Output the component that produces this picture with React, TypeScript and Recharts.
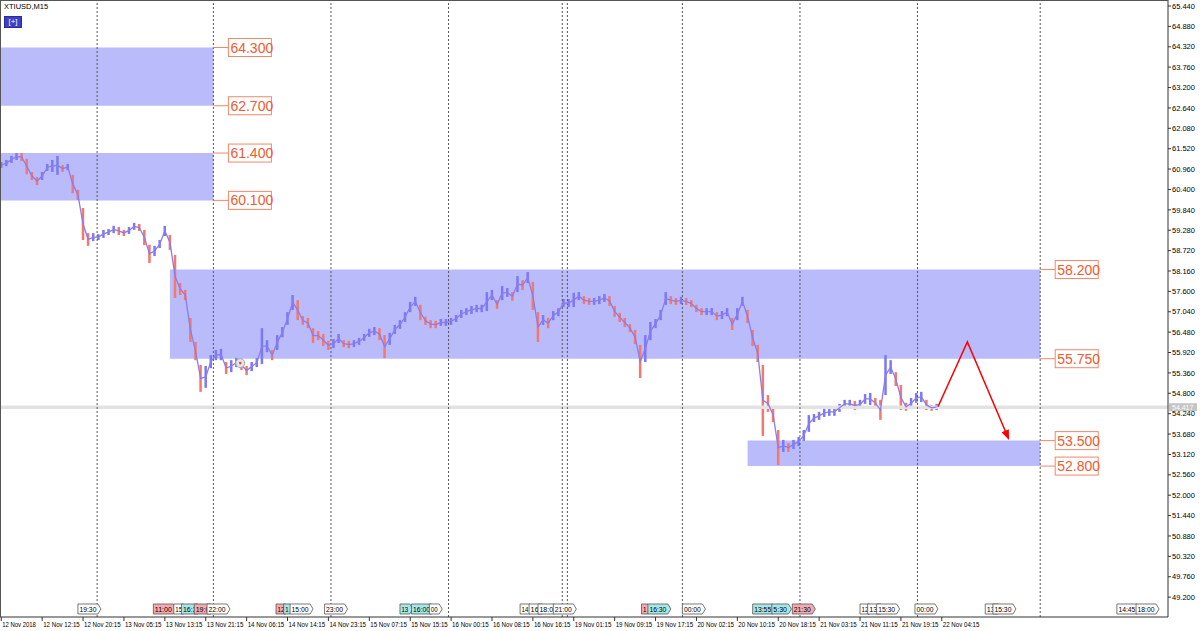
import React from "react";
import {
  ComposedChart,
  Bar,
  Line,
  XAxis,
  YAxis,
  ReferenceArea,
  ReferenceLine,
  ReferenceDot,
} from "recharts";

// sampled M15 ranges, one entry every 4 bars
const BAR_STEP = 4;
const highs = [
  61.15, 61.21, 61.32, 61.4, 61.4, 61.24, 60.88, 60.74, 60.88, 61.1,
  61.21, 61.32, 61.07, 61.1, 60.8, 60.39, 59.89, 59.2, 59.2, 59.17,
  59.29, 59.31, 59.4, 59.37, 59.29, 59.37, 59.48, 59.45, 59.29, 58.88,
  58.85, 59.01, 59.4, 59.15, 58.6, 57.83, 57.64, 56.87, 56.21, 55.58,
  55.55, 55.85, 55.99, 56.02, 55.66, 55.71, 55.77, 55.71, 55.55, 55.66,
  55.77, 56.59, 56.26, 55.99, 56.4, 56.62, 57.03, 57.5, 57.36, 56.92,
  56.87, 56.59, 56.51, 56.43, 56.24, 56.29, 56.43, 56.26, 56.24, 56.26,
  56.32, 56.43, 56.57, 56.62, 56.59, 56.4, 56.46, 56.68, 56.81, 57.03,
  57.31, 57.45, 57.23, 56.9, 56.81, 56.79, 56.84, 56.84, 56.87, 56.95,
  57.09, 57.14, 57.2, 57.23, 57.23, 57.58, 57.64, 57.36, 57.75, 57.69,
  57.58, 58.02, 57.91, 58.13, 57.86, 57.03, 56.95, 56.87, 57.06, 57.14,
  57.39, 57.39, 57.56, 57.58, 57.47, 57.42, 57.42, 57.47, 57.53, 57.47,
  57.2, 57.01, 56.87, 56.7, 56.54, 56.13, 56.4, 56.76, 56.84, 57.09,
  57.58, 57.47, 57.42, 57.45, 57.42, 57.36, 57.23, 57.14, 57.14, 57.14,
  57.03, 57.06, 57.14, 56.87, 57.14, 57.45, 57.09, 56.54, 56.13, 55.58,
  54.75, 54.4, 53.79, 53.52, 53.43, 53.52, 53.6, 53.79, 54.2, 54.23,
  54.29, 54.37, 54.4, 54.4, 54.51, 54.62, 54.62, 54.59, 54.62, 54.78,
  54.81, 54.67, 54.62, 55.85, 55.71, 55.38, 55.03, 54.54, 54.67, 54.81,
  54.84, 54.62, 54.48, 54.51,
];
const lows = [
  60.99, 61.04, 61.13, 61.21, 61.18, 60.82, 60.66, 60.52, 60.66, 60.91,
  60.88, 60.8, 60.88, 60.93, 60.3, 60.11, 59.01, 58.85, 58.98, 59.01,
  59.07, 59.15, 59.2, 59.15, 59.12, 59.18, 59.29, 59.26, 58.87, 58.38,
  58.57, 58.79, 59.12, 58.74, 57.42, 57.5, 57.36, 56.21, 55.71, 54.84,
  54.95, 55.49, 55.71, 55.71, 55.33, 55.38, 55.52, 55.44, 55.3, 55.41,
  55.52, 55.6, 55.93, 55.71, 55.99, 56.34, 56.68, 57.09, 56.81, 56.68,
  56.59, 56.18, 56.26, 56.1, 55.99, 56.04, 56.18, 56.07, 56.04, 56.07,
  56.13, 56.24, 56.35, 56.4, 56.26, 55.77, 56.13, 56.43, 56.57, 56.76,
  57.03, 57.2, 56.81, 56.68, 56.59, 56.59, 56.65, 56.65, 56.68, 56.76,
  56.87, 56.95, 56.98, 57.03, 57.03, 57.06, 57.36, 57.12, 57.36, 57.45,
  57.34, 57.58, 57.64, 57.83, 57.09, 56.21, 56.68, 56.59, 56.81, 56.92,
  57.17, 57.17, 57.17, 57.36, 57.25, 57.23, 57.23, 57.25, 57.31, 57.2,
  56.9, 56.76, 56.62, 56.48, 56.15, 55.22, 55.66, 56.26, 56.59, 56.81,
  57.23, 57.25, 57.23, 57.25, 57.23, 57.17, 57.03, 56.95, 56.95, 56.95,
  56.81, 56.84, 56.92, 56.54, 56.81, 57.2, 56.73, 56.1, 55.66, 53.63,
  54.29, 54.01, 52.83, 53.19, 53.19, 53.27, 53.35, 53.49, 53.74, 54.01,
  54.07, 54.15, 54.18, 54.18, 54.29, 54.4, 54.4, 54.34, 54.37, 54.51,
  54.48, 54.4, 54.07, 54.75, 55.33, 55.0, 54.34, 54.32, 54.37, 54.54,
  54.56, 54.34, 54.32, 54.34,
];

const timeLabels = [
  "12 Nov 2018", "12 Nov 12:15", "12 Nov 20:15", "13 Nov 05:15", "13 Nov 13:15",
  "13 Nov 21:15", "14 Nov 06:15", "14 Nov 14:15", "14 Nov 23:15", "15 Nov 07:15",
  "15 Nov 15:15", "16 Nov 00:15", "16 Nov 08:15", "16 Nov 16:15", "19 Nov 01:15",
  "19 Nov 09:15", "19 Nov 17:15", "20 Nov 02:15", "20 Nov 10:15", "20 Nov 18:15",
  "21 Nov 03:15", "21 Nov 11:15", "21 Nov 19:15", "22 Nov 04:15",
];
const LABEL_EVERY = 32;

const priceTicks = [
  65.44, 64.88, 64.32, 63.76, 63.2, 62.64, 62.08, 61.52, 60.96, 60.4,
  59.84, 59.28, 58.72, 58.16, 57.6, 57.04, 56.48, 55.92, 55.36, 54.8,
  54.24, 53.68, 53.12, 52.56, 52.0, 51.44, 50.88, 50.32, 49.76, 49.2,
];

// supply / demand zones (bar index, price)
const zoneStart = [-1, -1, 132, 584];
const zoneEnd = [166, 166, 813, 813];
const zoneTop = [64.3, 61.4, 58.2, 53.5];
const zoneBottom = [62.7, 60.1, 55.75, 52.8];

const daySeparators = [75, 166, 258, 350, 439, 443, 533, 625, 717, 813];
const currentPrice = 54.417;

const projectionBars = [733, 756, 788];
const projectionPrices = [54.43, 56.21, 53.57];

// closed trade marker
const tradeBar = 187;
const tradePrice = 55.63;

// calendar events along the bottom
const eventBars = [60, 119, 135, 141, 151, 161, 215, 221, 226, 253, 312, 321, 335, 406, 413, 420, 432, 501, 506, 533, 588, 603, 619, 672, 678, 685, 715, 770, 776, 873, 888];
const eventTimes = ["19:30", "11:00", "15", "16:3", "19:0", "22:00", "12", "1", "15:00", "23:00", "13", "16:00", "00", "14", "16:", "18:0", "21:00", "1", "16:30", "00:00", "13:55", "5:30", "21:30", "12", "13:", "15:30", "00:00", "13:", "15:30", "14:45", "18:00"];
const eventKinds = ["w", "p", "w", "c", "p", "w", "p", "c", "w", "w", "c", "c", "w", "w", "w", "w", "w", "p", "c", "w", "c", "c", "p", "w", "w", "w", "w", "w", "w", "w", "w"];
const EVENT_ROW = 48.874;

const BLUE = "#7A7AF6";
const RED = "#F4786C";
const ZONE = "#B9BBFA";
const TAG = "#EF5A34";
const FONT = "Liberation Sans";

const candles = highs.map((h, i) => {
  const mid = (h + lows[i]) / 2;
  const prev = i > 0 ? (highs[i - 1] + lows[i - 1]) / 2 : mid;
  return { bar: i * BAR_STEP, range: [lows[i], h], mid, up: mid >= prev };
});

const projection = projectionBars.map((b, i) => ({ bar: b, price: projectionPrices[i] }));

const CandleShape = (p: any) => {
  const cx = p.x + p.width / 2;
  const h = Math.max(Math.abs(p.height), 1.5);
  const y = p.height < 0 ? p.y + p.height : p.y;
  const up = p.payload?.up ?? p.up;
  return <rect x={cx - 1.25} y={y} width={2.5} height={h} fill={up ? BLUE : RED} />;
};

const LevelTag = ({ cx, cy, text }: { cx: number; cy: number; text: string }) => (
  <g>
    <line x1={cx} y1={cy} x2={cx + 15} y2={cy} stroke="#F0886C" />
    <rect x={cx + 15} y={cy - 9} width={43} height={18} fill="#fff" stroke="#F0886C" />
    <text x={cx + 17} y={cy + 5} fontSize={14} fill={TAG} fontFamily={FONT}>
      {text}
    </text>
  </g>
);

const EventFlag = ({ cx, cy, text, kind }: { cx: number; cy: number; text: string; kind: string }) => {
  const w = text.length * 3.4 + 6;
  const fill = kind === "p" ? "#F5AAB0" : kind === "c" ? "#A6E8E8" : "#fff";
  return (
    <g>
      <path
        d={`M${cx},${cy - 5}H${cx + w - 3}L${cx + w},${cy}L${cx + w - 3},${cy + 5}H${cx}Z`}
        fill={fill}
        stroke="#555"
        strokeWidth={0.8}
      />
      <text x={cx + 1.5} y={cy + 2.6} fontSize={7} fill="#000" fontFamily={FONT} textLength={text.length * 3.4} lengthAdjust="spacingAndGlyphs">
        {text}
      </text>
    </g>
  );
};

const TradeMark = ({ cx, cy }: { cx: number; cy: number }) => (
  <g>
    <circle cx={cx} cy={cy} r={4.5} fill="#E4E4E4" stroke="#A8A8A8" />
    <circle cx={cx} cy={cy} r={1.3} fill="#D05050" />
  </g>
);

const TimeTick = ({ x, y, payload }: any) => {
  const idx = Math.round(payload.value / LABEL_EVERY);
  const label = timeLabels[idx] ?? "";
  return (
    <g>
      <line x1={x} y1={y - 2} x2={x} y2={y + 2} stroke="#333" />
      <text
        x={x + 1}
        y={y + 8}
        fontSize={7.5}
        fill="#000"
        fontFamily={FONT}
        textLength={label.length * 3.05}
        lengthAdjust="spacingAndGlyphs"
      >
        {label}
      </text>
    </g>
  );
};

const PriceBadge = ({ viewBox }: any) => {
  const x = viewBox.x + viewBox.width + 1;
  const y = viewBox.y;
  return (
    <g>
      <rect x={x} y={y - 4} width={28} height={8} fill="#C4C4C4" />
      <text x={x + 3} y={y + 2.5} fontSize={7} fill="#fff" fontFamily={FONT}>
        {currentPrice.toFixed(3)}
      </text>
    </g>
  );
};

export default function App() {
  const tickBars = timeLabels.map((_, i) => i * LABEL_EVERY);
  return (
    <div style={{ position: "relative", width: 1200, height: 631, background: "#fff" }}>
      <style>{"body{margin:0}"}</style>
      <svg width={0} height={0} style={{ position: "absolute" }}>
        <defs>
          <marker id="arrowhead" markerWidth="10" markerHeight="8" refX="8" refY="4" orient="auto" markerUnits="userSpaceOnUse">
            <path d="M0,0 L10,4 L0,8 Z" fill="#FF0000" />
          </marker>
        </defs>
      </svg>
      <ComposedChart
        width={1200}
        height={631}
        data={candles}
        margin={{ top: 0, right: 0, left: 0, bottom: 0 }}
      >
        <XAxis
          type="number"
          dataKey="bar"
          domain={[-1, 913]}
          ticks={tickBars}
          interval={0}
          allowDataOverflow
          height={14}
          tickLine={false}
          tickSize={0}
          tick={<TimeTick />}
          axisLine={{ stroke: "#333" }}
        />
        <YAxis
          orientation="right"
          width={32}
          domain={[48.654, 65.605]}
          ticks={priceTicks}
          interval={0}
          allowDataOverflow
          tickSize={3}
          tickMargin={1}
          tickLine={{ stroke: "#333" }}
          axisLine={{ stroke: "#333" }}
          tickFormatter={(v: number) => v.toFixed(3)}
          tick={{ fontSize: 7.5, fill: "#000", fontFamily: FONT }}
        />

        {zoneTop.map((top, i) => (
          <ReferenceArea
            key={`zone-${i}`}
            x1={zoneStart[i]}
            x2={zoneEnd[i]}
            y1={zoneBottom[i]}
            y2={top}
            fill={ZONE}
            fillOpacity={1}
            stroke="none"
            ifOverflow="hidden"
          />
        ))}

        <ReferenceLine y={currentPrice} stroke="#E2E2E2" strokeWidth={3.5} label={<PriceBadge />} />

        {daySeparators.map((b) => (
          <ReferenceLine key={`sep-${b}`} x={b} stroke="#555" strokeDasharray="2 2" />
        ))}

        <Line
          dataKey="mid"
          type="linear"
          stroke="#8E7BE8"
          strokeWidth={1.3}
          dot={false}
          activeDot={false}
          isAnimationActive={false}
        />
        <Bar dataKey="range" barSize={4} shape={CandleShape} isAnimationActive={false} />

        <ReferenceDot
          x={tradeBar}
          y={tradePrice}
          ifOverflow="visible"
          shape={(p: any) => <TradeMark cx={p.cx} cy={p.cy} />}
        />

        <Line
          data={projection}
          dataKey="price"
          type="linear"
          stroke="#FF0000"
          strokeWidth={1.5}
          dot={false}
          activeDot={false}
          markerEnd="url(#arrowhead)"
          isAnimationActive={false}
        />

        {zoneTop.flatMap((top, i) => [
          <ReferenceDot
            key={`tagt-${i}`}
            x={zoneEnd[i]}
            y={top}
            ifOverflow="visible"
            shape={(p: any) => <LevelTag cx={p.cx} cy={p.cy} text={top.toFixed(3)} />}
          />,
          <ReferenceDot
            key={`tagb-${i}`}
            x={zoneEnd[i]}
            y={zoneBottom[i]}
            ifOverflow="visible"
            shape={(p: any) => <LevelTag cx={p.cx} cy={p.cy} text={zoneBottom[i].toFixed(3)} />}
          />,
        ])}

        {eventBars.map((b, i) => (
          <ReferenceDot
            key={`ev-${i}`}
            x={b}
            y={EVENT_ROW}
            ifOverflow="visible"
            shape={(p: any) => <EventFlag cx={p.cx} cy={p.cy} text={eventTimes[i]} kind={eventKinds[i]} />}
          />
        ))}
      </ComposedChart>

      <div
        style={{
          position: "absolute",
          left: 0,
          top: 0,
          width: 1167,
          height: 616,
          borderLeft: "1px solid #555",
          borderTop: "1px solid #555",
          pointerEvents: "none",
        }}
      />
      <div style={{ position: "absolute", left: 4, top: 2, fontSize: 7.5, fontFamily: FONT, color: "#000" }}>
        XTIUSD,M15
      </div>
      <div
        style={{
          position: "absolute",
          left: 4,
          top: 16,
          width: 18,
          height: 12,
          background: "#3F3FC4",
          border: "1px solid #2A2A90",
          color: "#fff",
          fontSize: 8,
          fontFamily: FONT,
          lineHeight: "10px",
          textAlign: "center",
          boxSizing: "border-box",
        }}
      >
        [+]
      </div>
    </div>
  );
}
